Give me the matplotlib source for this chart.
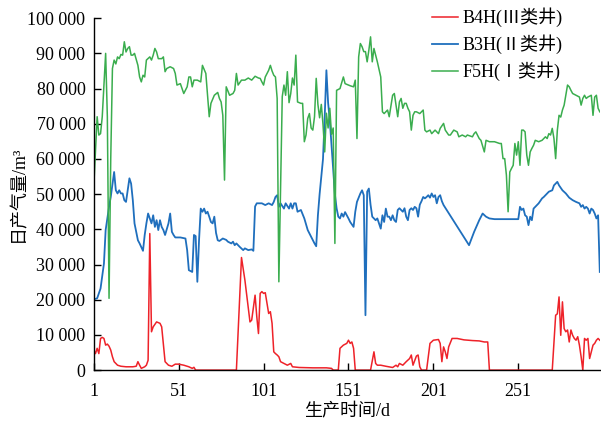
import matplotlib
matplotlib.use("Agg")
import matplotlib.pyplot as plt
from matplotlib.ticker import FuncFormatter

plt.rcParams["font.family"] = ["Liberation Serif", "Noto Sans CJK SC", "DejaVu Sans"]

# B4H (type III well)
b4h_days = [1, 2, 3, 4, 5, 6, 7, 8, 9, 10, 11, 12, 13, 15, 17, 20, 24, 26, 27, 28,
            29, 31, 32, 33, 34, 35, 36, 38, 40, 41, 43, 45, 47, 49, 51, 54, 57, 59, 60, 61,
            85, 88, 90, 92, 93, 94, 96, 97, 98, 99, 100, 101, 102, 103, 104, 105, 106, 107, 108, 109,
            110, 111, 113, 115, 117, 118, 122, 130, 138, 141, 142, 145, 146, 148, 150, 151, 152, 153, 154, 155,
            164, 166, 167, 168, 170, 173, 177, 179, 180, 181, 183, 185, 187, 188, 189, 191, 192, 193, 194, 197,
            199, 201, 204, 205, 206, 207, 208, 209, 210, 212, 215, 219, 224, 228, 231, 233, 234, 271, 273, 274,
            275, 276, 277, 278, 279, 280, 281, 282, 283, 284, 285, 286, 287, 288, 289, 290, 291, 292, 293, 294,
            295, 296, 297, 298, 299]
b4h_gas = [5700, 4700, 6200, 4700, 9000, 9300, 9000, 7100, 7400, 6800, 5700, 3800, 2400, 1400, 1100, 950, 950, 1100, 2400, 1400,
           500, 950, 1400, 2800, 38800, 10900, 12300, 13700, 13300, 12300, 2400, 1400, 1100, 1700, 1700, 1400, 950, 500, 800, 0,
           0, 32000, 25600, 17500, 13700, 14200, 21300, 15200, 10400, 21800, 22300, 21800, 22000, 19000, 16100, 16600, 13300, 5200, 4700, 4300,
           3800, 2400, 1900, 1400, 1900, 950, 750, 650, 650, 500, 0, 0, 6200, 7100, 7600, 8500, 7600, 8000, 6200, 0,
           0, 5200, 1900, 1400, 1400, 1100, 750, 1400, 950, 1900, 1400, 2400, 3300, 4300, 1400, 4000, 4300, 950, 0, 0,
           7600, 8500, 8700, 7600, 2400, 6600, 5200, 3300, 6600, 9000, 9000, 8600, 8400, 8300, 8000, 8000, 0, 0, 15600, 16000,
           20800, 9900, 19400, 11800, 10900, 11400, 8000, 11400, 9900, 9000, 8500, 9500, 7100, 3800, 0, 9000, 8500, 9000, 3300, 5200,
           7100, 7600, 8500, 9000, 8500]

# B3H (type II well)
b3h_days = [1, 3, 5, 7, 8, 10, 11, 13, 14, 15, 16, 17, 18, 19, 20, 21, 22, 23, 24, 25,
            27, 28, 30, 31, 32, 33, 35, 36, 37, 38, 39, 40, 41, 42, 43, 45, 46, 47, 48, 49,
            52, 55, 56, 57, 59, 60, 61, 62, 63, 64, 65, 66, 67, 68, 69, 70, 71, 72, 73, 74,
            75, 77, 79, 80, 82, 83, 84, 85, 87, 89, 90, 92, 94, 95, 96, 97, 98, 100, 102, 104,
            106, 107, 108, 109, 110, 111, 113, 114, 116, 117, 118, 119, 120, 121, 123, 125, 127, 129, 131, 132,
            133, 134, 135, 136, 137, 138, 139, 140, 141, 142, 143, 144, 145, 146, 147, 148, 149, 151, 152, 154,
            155, 156, 158, 159, 160, 161, 162, 163, 164, 165, 166, 167, 168, 170, 171, 172, 173, 174, 175, 176,
            177, 178, 179, 180, 181, 183, 184, 185, 186, 187, 188, 189, 190, 191, 192, 193, 194, 195, 196, 197,
            198, 199, 200, 201, 202, 203, 204, 205, 206, 207, 222, 225, 228, 230, 232, 234, 237, 251, 252, 253,
            254, 255, 256, 257, 258, 259, 260, 261, 263, 265, 266, 267, 269, 271, 272, 273, 274, 275, 277, 279,
            281, 283, 285, 287, 288, 289, 290, 291, 292, 293, 294, 295, 296, 297, 298, 299]
b3h_gas = [20100, 20400, 23200, 30300, 39800, 46400, 49200, 56300, 51100, 50200, 51100, 50200, 50200, 48300, 47800, 51100, 54500, 53000, 48300, 41700,
           36900, 36000, 33900, 38400, 41700, 44500, 41700, 44000, 40700, 42600, 39800, 42600, 40700, 39800, 38400, 41700, 44500, 39300, 38400, 37700,
           37700, 37400, 34100, 28400, 27900, 38400, 38100, 25100, 36900, 45900, 45000, 45900, 44500, 45000, 43600, 42100, 41700, 43600, 39000, 36900,
           36700, 37400, 37000, 36500, 36000, 36500, 35500, 36000, 35000, 34100, 34600, 34100, 34300, 33900, 46500, 47400, 47400, 47400, 46900, 47400,
           46900, 47800, 49200, 49700, 46400, 47400, 45900, 47400, 45900, 47400, 45900, 47400, 47400, 45000, 45500, 43100, 39800, 37900, 36000, 35200,
           44000, 50000, 54900, 60000, 72000, 85200, 76000, 71000, 64000, 57000, 50000, 46000, 43600, 43100, 44500, 43600, 44900, 43100, 42100, 40700,
           45000, 47800, 50200, 51100, 49700, 15600, 50700, 51600, 47000, 43600, 43100, 42600, 43100, 40200, 44000, 42100, 45900, 43600, 43600, 42600,
           44000, 42600, 42100, 45500, 46000, 45000, 46000, 43600, 42600, 45500, 46000, 45500, 46400, 46000, 43600, 47000, 48000, 49200, 48800, 49200,
           49700, 49000, 50200, 49200, 49700, 47400, 49200, 49700, 48000, 46900, 35500, 39300, 42600, 44500, 43600, 43100, 42900, 42900, 46400, 45500,
           45900, 44000, 43600, 41200, 43600, 42600, 45900, 46400, 47400, 48800, 49200, 49700, 50700, 51100, 52500, 53000, 53500, 52500, 51100, 50200,
           49000, 48300, 47800, 47400, 46400, 46900, 45900, 46400, 45900, 44500, 45900, 45500, 44500, 43100, 44000, 27900]

# F5H (type I well)
f5h_days = [1, 3, 4, 5, 6, 8, 9, 10, 11, 12, 13, 14, 15, 16, 17, 18, 19, 20, 21, 22,
            23, 24, 25, 27, 28, 29, 30, 31, 32, 34, 35, 36, 37, 38, 39, 41, 42, 43, 44, 46,
            48, 49, 50, 52, 54, 56, 57, 58, 59, 60, 62, 64, 65, 67, 69, 70, 72, 74, 75, 76,
            77, 78, 79, 81, 83, 84, 85, 86, 88, 90, 92, 94, 96, 98, 99, 100, 101, 102, 104, 105,
            106, 107, 108, 109, 110, 111, 112, 113, 114, 115, 116, 117, 118, 119, 120, 121, 122, 123, 124, 125,
            126, 127, 128, 129, 130, 131, 132, 133, 134, 135, 136, 137, 138, 139, 140, 141, 142, 143, 144, 146,
            148, 149, 152, 154, 155, 156, 157, 158, 159, 160, 161, 162, 163, 164, 165, 166, 168, 170, 171, 172,
            174, 175, 177, 178, 179, 180, 181, 182, 183, 184, 185, 186, 187, 188, 189, 190, 191, 193, 195, 196,
            197, 199, 200, 202, 204, 205, 207, 208, 210, 211, 213, 215, 216, 218, 220, 221, 224, 225, 226, 228,
            229, 231, 232, 234, 237, 240, 241, 242, 243, 244, 245, 246, 247, 248, 249, 250, 251, 252, 253, 254,
            255, 256, 257, 258, 259, 260, 261, 263, 265, 267, 268, 269, 270, 271, 272, 273, 274, 275, 276, 277,
            278, 279, 280, 281, 282, 283, 285, 287, 288, 289, 290, 291, 292, 294, 295, 296, 297, 298, 299]
f5h_gas = [52100, 72000, 66800, 67200, 72000, 90000, 72000, 20400, 60000, 85700, 88100, 87000, 89000, 88500, 89700, 89500, 93300, 90400, 91400, 91900,
           89500, 89500, 90000, 86600, 83300, 81900, 83800, 83300, 88100, 89000, 88100, 89500, 91400, 90400, 88500, 88500, 89000, 84800, 85700, 86200,
           85700, 84300, 81000, 81400, 78600, 80500, 83300, 83300, 80500, 82400, 82400, 81900, 86600, 84300, 72000, 75800, 78100, 78900, 77200, 76200,
           72400, 54000, 80500, 78100, 78600, 79500, 84300, 81000, 82400, 82400, 83000, 82400, 83500, 83000, 82900, 81900, 81000, 83300, 85200, 86600,
           85000, 83800, 83300, 77200, 25100, 51600, 77700, 81000, 78100, 84800, 76000, 78600, 83000, 81000, 89500, 76200, 76000, 75800, 75800, 64900,
           66800, 71500, 72900, 68800, 68200, 72000, 82900, 75500, 71700, 75500, 69800, 62000, 73000, 68800, 74400, 67000, 68800, 36000, 79500, 80000,
           83300, 81400, 80800, 80500, 82400, 65800, 89000, 92800, 91900, 90500, 90500, 87600, 90900, 94700, 87600, 91400, 87600, 83300, 73400, 72900,
           73900, 72000, 78100, 78600, 75300, 72000, 76200, 77200, 74400, 75800, 75800, 74400, 73400, 68200, 72400, 73400, 73400, 72900, 73900, 68200,
           67700, 68200, 67200, 68200, 67200, 68700, 70100, 68200, 66800, 66800, 68200, 67700, 66300, 66800, 66300, 66800, 66300, 67200, 67700, 65800,
           65300, 62000, 65300, 64900, 64900, 64400, 64400, 60100, 60100, 55400, 45000, 56300, 57300, 58200, 64400, 61100, 64900, 58200, 68200, 68200,
           67700, 61100, 58200, 62000, 63000, 63900, 65300, 64900, 65300, 66300, 65800, 67200, 66800, 68700, 65800, 60100, 68200, 72400, 71900, 73900,
           75300, 78100, 81000, 80500, 79500, 78600, 78100, 77600, 75300, 77200, 78100, 77200, 77600, 78100, 72400, 77600, 78100, 74400, 73400]

x_ticks = [1, 51, 101, 151, 201, 251]
y_ticks = list(range(0, 100001, 10000))

fig = plt.figure(figsize=(6.01, 4.23), dpi=100)
ax = fig.add_axes([0.156, 0.125, 0.842, 0.832])

ax.plot(b4h_days, b4h_gas, color="#ee2229", lw=1.1, label="B4H(Ⅲ类井)")
ax.plot(b3h_days, b3h_gas, color="#1f6fbd", lw=1.3, label="B3H(Ⅱ类井)")
ax.plot(f5h_days, f5h_gas, color="#3aad4e", lw=1.1, label="F5H(Ⅰ类井)")

ax.set_xlim(1, 299)
ax.set_ylim(0, 100000)
ax.set_xticks(x_ticks)
ax.set_yticks(y_ticks)
ax.yaxis.set_major_formatter(FuncFormatter(lambda v, p: f"{int(v):,}".replace(",", " ")))
ax.tick_params(direction="in", length=5, width=1, labelsize=13)
ax.tick_params(axis="x", pad=9)
ax.tick_params(axis="y", pad=6)
for side in ["top", "right"]:
    ax.spines[side].set_visible(False)
for side in ["left", "bottom"]:
    ax.spines[side].set_linewidth(1)

ax.set_xlabel("生产时间/d", fontsize=13, labelpad=3)
ax.set_ylabel("日产气量/m³", fontsize=13, labelpad=0)

ax.legend(loc="upper left", bbox_to_anchor=(0.701, 1.008), bbox_transform=fig.transFigure,
          frameon=False, fontsize=13, handlelength=1.45, handletextpad=0.25,
          labelspacing=0.42, borderpad=0.1)

fig.savefig("out.png", dpi=100)
